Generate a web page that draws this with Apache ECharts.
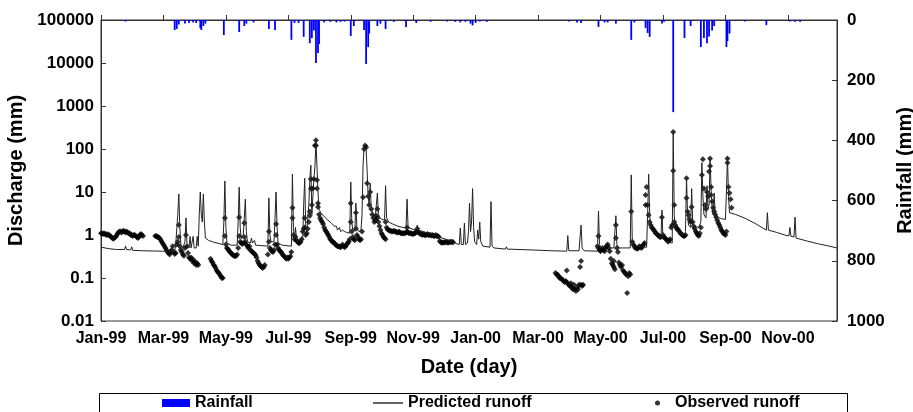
<!DOCTYPE html>
<html><head><meta charset="utf-8">
<script src="https://cdn.jsdelivr.net/npm/echarts@6/dist/echarts.min.js"></script>
<style>html,body{margin:0;padding:0;background:#fff}#c{width:913px;height:412px}</style>
</head><body><div id="c"></div>
<script>
// x axis: day index counted from 1 Jan 1999, one tick every 61 days
const tickLabels = ['Jan-99','Mar-99','May-99','Jul-99','Sep-99','Nov-99','Jan-00','Mar-00','May-00','Jul-00','Sep-00','Nov-00'];
const dischargeTicks = [0.01,0.1,1,10,100,1000,10000,100000];

// daily rainfall [day, mm]
const rainfall = [
[24,5],[72,33],[74,30],[76,15],[82,12],[86,10],[90,8],[93,10],[97,27],[98,33],[100,20],[102,12],
[120,50],[135,40],[140,20],[142,12],[149,8],[164,30],[170,33],[186,66],[189,10],[193,10],
[198,56],[204,77],[206,60],[208,35],[210,143],[212,110],[213,80],[218,8],[224,6],[230,8],[234,6],[238,5],
[244,53],[247,20],[257,33],[259,146],[261,90],[262,45],[270,20],[273,12],[278,30],[286,6],[298,23],
[308,10],[322,6],[338,5],[346,6],[351,8],[356,6],[361,12],[363,18],[366,10],[370,5],[377,6],
[457,5],[465,8],[469,10],[486,23],[492,8],[495,8],[503,12],[518,66],[521,8],[532,27],[534,43],[536,56],
[548,12],[550,6],[559,306],[570,60],[576,20],[586,90],[589,60],[592,77],[594,55],[597,35],[599,20],
[611,90],[612,70],[614,45],[629,5],[650,17],[673,5],[678,6],[683,6]
];

// predicted runoff [day, mm]
const predicted = [
[0,0.52],[8,0.48],[15,0.46],[23,0.46],[24,0.55],[25,0.46],[29,0.45],[30,0.53],[31,0.44],[40,0.43],[60,0.42],[72,0.42],
[73,0.6],[75,3],[76,9],[77,1.5],[78,0.6],[80,0.5],[82,0.7],[83,2.5],[84,0.6],[86,0.5],[87,0.93],[88,0.5],[89,0.5],[90,0.93],[91,0.5],
[93,0.5],[94,0.93],[95,0.55],[96,3],[97,10],[98,3],[99,2],[100,9],[101,2],[102,0.85],[105,0.75],[110,0.68],[119,0.6],
[120,2],[121,18],[122,1.5],[123,0.65],[127,0.58],[133,0.58],[134,2],[135,13],[136,1.5],[137,0.8],[139,1.0],[141,6.8],
[142,1.2],[143,0.7],[146,0.65],[147,0.85],[148,0.65],[150,0.75],[151,0.58],[163,0.55],[164,7.3],[165,1],[166,0.7],
[169,0.7],[170,2.5],[171,10],[172,1.5],[173,0.65],[177,0.58],[186,0.55],[187,26],[188,1.5],[189,0.8],[190,1.5],[191,0.8],
[192,0.7],[197,0.75],[198,5],[199,21],[200,1.5],[201,1.2],[203,5],[204,20],[205,42],[206,3],[207,8],[208,20],[209,40],
[210,150],[211,160],[212,10],[213,4],[215,3.2],[220,2.4],[225,1.9],[228,1.6],[230,1.6],[231,1.3],[233,1.5],[234,1.2],
[236,1.3],[238,1.2],[240,1.15],[243,1.1],[244,17],[245,2],[246,1.3],[248,1.3],[249,5.5],[250,1.4],[252,1.2],[254,1.3],
[255,3],[256,40],[257,110],[258,120],[259,100],[260,30],[261,8],[262,5],[263,16],[264,4],[266,3],[268,2.7],[269,2.6],
[270,9.5],[271,3],[273,2.4],[277,2.2],[278,14],[279,2.5],[281,2.0],[285,1.8],[290,1.6],[295,1.5],[298,1.45],[299,6.8],
[300,1.5],[305,1.35],[308,1.3],[309,1.7],[310,1.3],[315,1.2],[320,1.1],[330,0.9],[340,0.75],[348,0.62],[350,0.6],
[351,1.45],[352,0.6],[354,0.6],[355,1.9],[356,0.6],[358,0.65],[359,1.2],[360,5.5],[361,1.2],[362,2],[363,12],[364,1.5],
[365,0.7],[367,0.6],[368,1.3],[369,0.8],[370,2],[371,0.7],[373,0.55],[380,0.52],[381,6],[382,0.55],[384,0.5],
[395,0.47],[396,0.53],[397,0.47],[420,0.45],[440,0.43],[455,0.42],[456,0.97],[457,0.43],[467,0.43],[468,0.9],[469,1.7],
[470,0.5],[472,0.43],[485,0.42],[486,3.6],[487,0.6],[489,0.5],[492,0.55],[494,0.65],[496,0.6],[498,0.5],[501,0.5],
[502,1.2],[503,2.8],[504,0.6],[506,0.5],[517,0.5],[518,25],[519,0.7],[520,0.55],[533,0.52],[534,3],[535,26],[536,3],
[537,1.4],[540,1.2],[544,1.0],[547,0.85],[548,3.8],[549,0.8],[553,0.7],[558,0.65],[559,250],[560,3],[561,1.3],[565,1.1],
[570,1.0],[571,1.2],[572,22],[573,3],[574,1.7],[576,1.5],[577,12],[578,2],[580,1.6],[584,1.5],[586,2],[587,48],[588,8],
[589,3],[591,2.5],[592,14],[593,4],[594,5],[595,60],[596,12],[597,4],[598,3],[599,9.5],[600,3],[602,2.6],[606,2.4],
[610,2.3],[611,10],[612,65],[613,8],[614,3.3],[620,3.0],[630,2.4],[640,1.8],[650,1.3],[651,3.3],[652,1.3],[660,1.15],
[668,1.0],[672,0.95],[673,1.5],[674,0.93],[677,0.9],[678,2.6],[679,0.85],[690,0.72],[700,0.63],[710,0.56],[719,0.5]
];

// observed runoff [day, mm]
const observed1999a = [
[0,1.1],[1,1.1],[2,1.05],[3,1.1],[4,1.05],[5,1.0],[6,1.05],[7,1.0],[8,1.0],[9,0.95],[10,0.9],[11,0.85],[12,0.82],
[13,0.85],[14,0.9],[15,0.95],[16,1.05],[17,1.15],[18,1.2],[19,1.2],[20,1.15],[21,1.2],[22,1.25],[23,1.2],[24,1.15],
[25,1.2],[26,1.15],[27,1.1],[28,1.1],[29,1.0],[30,1.0],[31,0.95],[32,1.0],[33,1.0],[34,0.95],[35,0.9],[36,0.85],
[37,0.9],[38,1.0],[39,1.05],[40,1.0],[41,0.95],
[53,0.95],[54,0.95],[55,0.9],[56,0.9],[57,0.85],[58,0.8],[59,0.72],[60,0.65],[61,0.6],[62,0.55],[63,0.5],[64,0.45],
[65,0.4],[66,0.38],[67,0.35],[68,0.4],[69,0.45],[70,0.55],[71,0.4],[72,0.36],[73,0.38],[74,0.6],[75,0.7],[76,1.7],
[76,0.9],[77,0.55],[78,0.45],[79,0.4],[80,0.35],[81,0.33],[82,0.5],[83,1.0],[84,0.55],[85,0.38],[86,0.3],[87,0.28],
[88,0.3],[89,0.25],[90,0.27],[91,0.22],[92,0.24],[93,0.2],[94,0.22],[95,0.2],
[107,0.28],[108,0.25],[109,0.23],[110,0.2],[111,0.19],[112,0.17],[113,0.15],[114,0.14],[115,0.13],[116,0.12],
[117,0.11],[118,0.1],[119,0.1]
];
const observed1999b = [
[121,2.5],[121,0.95],[122,0.6],[123,0.5],[124,0.47],[125,0.43],[126,0.4],[127,0.38],[128,0.36],[129,0.34],[130,0.33],
[131,0.32],[132,0.33],[133,0.35],[134,0.5],[135,2.6],[135,0.95],[136,0.7],[137,0.65],[138,0.62],[139,0.65],[140,1.9],
[140,0.9],[141,0.7],[142,0.6],[143,0.55],[144,0.5],[145,0.55],[146,0.45],[147,0.42],[148,0.4],[149,0.38],[150,0.36],
[151,0.34],[152,0.3],[153,0.25],[154,0.22],[155,0.2],[156,0.19],[157,0.18],[158,0.17],[159,0.18],[160,0.2],
[163,0.35],[164,1.2],[164,0.7],[165,0.5],[166,0.45],[167,0.42],[168,0.4],[169,0.45],[170,0.6],[171,1.8],[171,1.0],
[172,0.6],[173,0.5],[174,0.45],[175,0.42],[176,0.4],[177,0.36],[178,0.34],[179,0.32],[180,0.3],[181,0.28],[182,0.3],
[183,0.28],[184,0.3],[185,0.32],[186,0.4],[187,4.3],[187,2.5],[188,1.0],[189,0.8],[190,0.9],[191,0.75],[192,0.7],
[193,0.65],[194,0.65],[195,0.7],[196,0.8],[197,1.2],[198,1.4],[199,2.5],[199,1.5],[200,1.0],[201,1.1],[202,1.4],
[203,2],[204,3.5],[204,2.8],[205,20],[205,12],[206,5],[207,12],[208,20],[209,120],[210,160],[210,120],[211,19],
[211,12],[212,5.5],[212,4.5],[213,3],[214,2.5],[215,2.2],[216,2],[217,1.8],[218,1.5],[219,1.3],[220,1.2],[221,1.1],
[222,1.0],[223,0.9],[224,0.8],[225,0.75],[226,0.7],[227,0.68],[228,0.65],[229,0.6],[230,0.58],[231,0.55],[232,0.55],
[233,0.53],[234,0.52],[235,0.55],[236,0.6],[237,0.55],[238,0.52],[239,0.55],[240,0.6],[241,0.65],[242,0.7],[243,0.8],
[244,5.5],[244,2.0],[245,1.2],[246,0.9],[247,0.8],[248,0.75],[249,3.3],[249,1.4],[250,1.0],[251,0.9],[252,0.8],
[253,0.75],[254,0.8],[255,1.2],[256,7.6],[257,100],[258,120],[259,110],[260,16],[261,8],[262,5],[263,10],[264,4],
[265,3],[266,2.5],[267,2.0],[268,2.2],[269,2.8],[270,4],[270,2.5],[271,2.0],[272,1.6],[273,1.3],[274,1.1],[275,1.0],
[276,0.9],[277,0.85],[278,2.0],[278,0.8],[279,1.5],[280,1.35],[281,1.3],[282,1.25],[283,1.25],[284,1.2],[285,1.2],
[286,1.25],[287,1.2],[288,1.2],[289,1.15],[290,1.15],[291,1.2],[292,1.15],[293,1.1],[294,1.1],[295,1.1],[296,1.1],
[297,1.1],[298,1.15],[299,1.5],[299,1.2],[300,1.15],[301,1.1],[302,1.1],[303,1.1],[304,1.05],[305,1.05],[306,1.1],
[307,1.1],[308,1.2],[309,1.4],[310,1.15],[311,1.1],[312,1.05],[313,1.05],[314,1.0],[315,1.05],[316,1.0],[317,1.0],
[318,1.0],[319,1.05],[320,1.0],[321,1.0],[322,1.0],[323,0.98],[324,1.0],[325,0.95],[326,0.95],[327,1.0],[328,0.95],
[329,0.95],[330,0.9],[331,0.72],[332,0.68],[333,0.66],[334,0.68],[335,0.66],[336,0.68],[337,0.7],[338,0.68],
[339,0.66],[340,0.68],[341,0.7],[342,0.68],[343,0.7],[344,0.68]
];
const observed2000 = [
[444,0.13],[445,0.12],[446,0.12],[447,0.11],[448,0.1],[449,0.1],[450,0.095],[451,0.09],[452,0.085],[453,0.08],
[454,0.085],[455,0.08],[455,0.15],[456,0.075],[457,0.07],[458,0.065],[459,0.075],[460,0.06],[461,0.055],[462,0.07],
[463,0.055],[464,0.05],[465,0.06],[466,0.055],[467,0.07],[468,0.18],[469,0.25],[469,0.07],[470,0.065],[471,0.07],
[485,0.55],[486,0.95],[486,0.5],[487,0.45],[488,0.42],[489,0.45],[490,0.5],[491,0.45],[492,0.42],[493,0.5],[494,0.55],
[495,0.6],[496,0.5],[497,0.42],[498,0.28],[499,0.22],[500,0.2],[501,0.18],[501,0.25],[502,0.16],[503,1.7],[503,0.85],
[504,0.5],[505,0.4],[506,0.23],[507,0.2],[508,0.18],[509,0.2],[510,0.15],[511,0.14],[512,0.13],[513,0.12],[514,0.045],
[515,0.11],[516,0.13],[517,0.12],[518,3.5],[519,0.7],[520,0.6],[521,0.55],[522,0.5],[523,0.5],[524,0.48],[525,0.5],
[526,0.55],[527,0.52],[528,0.5],[529,0.55],[530,0.6],[531,0.65],[532,8.5],[532,5],[533,13],[534,5],[535,2.9],
[536,2.0],[537,1.7],[538,1.5],[539,1.4],[540,1.3],[541,1.2],[542,1.1],[543,1.05],[544,1.0],[545,0.95],[546,0.9],
[547,0.9],[548,2.6],[549,1.0],[550,0.9],[551,0.85],[552,0.8],[553,0.75],[554,0.7],[555,0.75],[556,0.8],[557,1.5],
[558,1.7],[559,250],[559,31],[560,5],[560,2.0],[561,1.7],[562,1.5],[563,1.4],[564,1.3],[565,1.2],[566,1.1],
[567,1.05],[568,1.0],[569,0.95],[570,0.95],[571,1.0],[572,21],[572,7.3],[573,3.5],[574,2.9],[575,2.3],[576,2.0],
[577,4.5],[578,2.0],[579,1.6],[580,1.4],[581,1.2],[582,1.1],[583,1.0],[584,0.95],[585,1.1],[586,1.5],[587,25],
[588,58],[589,12],[590,5],[591,4],[592,10],[593,8],[594,30],[595,60],[595,40],[596,13],[596,8.5],[597,6],[598,4.3],
[599,3.5],[600,3],[601,2.6],[602,2.2],[603,1.9],[604,1.7],[605,1.5],[606,1.3],[607,1.2],[608,1.1],[609,1.05],
[610,1.0],[611,1.2],[612,60],[612,48],[613,13],[614,9.5],[615,6.8],[616,4.3]
];

const FONT = "'Liberation Sans', Arial, Helvetica, sans-serif";
const AX = '#333';
const chart = echarts.init(document.getElementById('c'), null, {renderer:'canvas'});
const legendText = {fontFamily: FONT, fontSize: 16, fontWeight: 'bold', color: '#000'};
chart.setOption({
  animation: false,
  backgroundColor: '#fff',
  grid: {left: 101, right: 76, top: 20, bottom: 91, show: true, borderColor: AX, borderWidth: 1, outerBoundsMode: 'none', containLabel: false},
  graphic: [{type: 'rect', left: 97, top: 391, shape: {width: 748, height: 30}, style: {fill: 'none', stroke: '#000', lineWidth: 1}, silent: true}],
  legend: [
    {data: [{name: 'Rainfall', icon: 'rect'}], left: 162, top: 395, itemWidth: 28, itemHeight: 8, itemGap: 0, padding: 0, textStyle: legendText},
    {data: [{name: 'Predicted runoff', icon: 'rect'}], left: 373, top: 395, itemWidth: 30, itemHeight: 1.4, itemGap: 0, padding: 0, textStyle: legendText},
    {data: [{name: 'Observed runoff', icon: 'circle'}], left: 655, top: 395, itemWidth: 5, itemHeight: 5, itemGap: 0, padding: 0, textStyle: Object.assign({}, legendText, {padding: [0,0,0,10]})}
  ],
  xAxis: {
    type: 'value', min: 0, max: 719, interval: 61,
    name: 'Date (day)', nameLocation: 'middle', nameGap: 36,
    nameTextStyle: {fontFamily: FONT, fontSize: 20, fontWeight: 'bold', color: '#000'},
    axisLine: {show: true, lineStyle: {color: AX}},
    axisTick: {show: true, inside: true, length: 5, lineStyle: {color: AX}},
    splitLine: {show: false},
    axisLabel: {fontFamily: FONT, fontSize: 16, fontWeight: 'bold', color: '#000', margin: 10, showMaxLabel: false,
      formatter: v => (v % 61 === 0 ? (tickLabels[v / 61] || '') : '')}
  },
  yAxis: [
    {
      type: 'log', logBase: 10, min: dischargeTicks[0], max: dischargeTicks[dischargeTicks.length-1],
      name: 'Discharge (mm)', nameLocation: 'middle', nameGap: 74,
      nameTextStyle: {fontFamily: FONT, fontSize: 20, fontWeight: 'bold', color: '#000'},
      axisLine: {show: true, lineStyle: {color: AX}},
      axisTick: {show: true, inside: true, length: 5, lineStyle: {color: AX}},
      minorTick: {show: false}, splitLine: {show: false},
      axisLabel: {fontFamily: FONT, fontSize: 17, fontWeight: 'bold', color: '#000', margin: 7,
        formatter: v => String(Number(Number(v).toPrecision(6)))}
    },
    {
      type: 'value', position: 'right', inverse: true, min: 0, max: 1000, interval: 200,
      name: 'Rainfall (mm)', nameLocation: 'middle', nameGap: 48, nameRotate: 90,
      nameTextStyle: {fontFamily: FONT, fontSize: 20, fontWeight: 'bold', color: '#000'},
      axisLine: {show: true, lineStyle: {color: AX}},
      axisTick: {show: true, inside: true, length: 5, lineStyle: {color: AX}},
      splitLine: {show: false},
      axisLabel: {fontFamily: FONT, fontSize: 17, fontWeight: 'bold', color: '#000', margin: 10,
        formatter: v => String(v)}
    }
  ],
  series: [
    {name: 'Rainfall', type: 'bar', yAxisIndex: 1, data: rainfall, barWidth: 1.8, itemStyle: {color: '#0000ff'}},
    {name: 'Predicted runoff', type: 'line', yAxisIndex: 0, data: predicted, symbol: 'none', lineStyle: {color: '#222', width: 1}, itemStyle: {color: '#222'}},
    {name: 'Observed runoff', type: 'scatter', yAxisIndex: 0, data: observed1999a.concat(observed1999b, observed2000), symbol: 'diamond', symbolSize: 6, itemStyle: {color: '#000'}}
  ]
});
</script></body></html>
